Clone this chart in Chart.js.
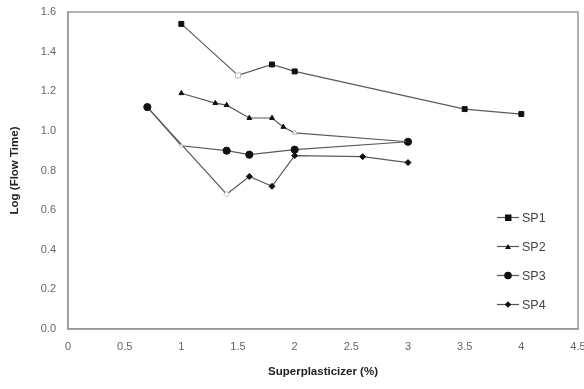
<!DOCTYPE html>
<html>
<head>
<meta charset="utf-8">
<script src="https://cdn.jsdelivr.net/npm/chart.js@4/dist/chart.umd.min.js"></script>
<style>
  html, body { margin: 0; padding: 0; background: #fff; }
  #wrap { position: relative; width: 584px; height: 389px; }
  #legend {
    position: absolute; left: 496px; top: 203px;
    font-family: "Liberation Sans", Arial, sans-serif; font-size: 12.5px; color: #444;
  }
  #legend div { display: flex; align-items: center; height: 29px; }
  #legend svg { margin-right: 2px; }
</style>
</head>
<body>
<div id="wrap">
  <canvas id="chart" width="584" height="389"></canvas>
  <div id="legend"></div>
</div>
<script>
// ================= DATA =================
const seriesNames = ["SP1", "SP2", "SP3", "SP4"];

const sp1X = [1.0, 1.5, 1.8, 2.0, 3.5, 4.0];
const sp1Y = [1.54, 1.28, 1.335, 1.30, 1.11, 1.085];

const sp2X = [1.0, 1.3, 1.4, 1.6, 1.8, 1.9, 2.0, 3.0];
const sp2Y = [1.19, 1.14, 1.13, 1.065, 1.065, 1.02, 0.99, 0.945];

const sp3X = [0.7, 1.0, 1.4, 1.6, 2.0, 3.0];
const sp3Y = [1.12, 0.925, 0.90, 0.88, 0.905, 0.945];

const sp4X = [0.7, 1.4, 1.6, 1.8, 2.0, 2.6, 3.0];
const sp4Y = [1.12, 0.68, 0.77, 0.72, 0.875, 0.87, 0.84];

// points drawn hollow in the original
const hollow = { SP1: [1.5], SP2: [2.0], SP3: [1.0], SP4: [1.4] };

const yTicks = [0, 0.2, 0.4, 0.6, 0.8, 1.0, 1.2, 1.4, 1.6];
const xTicks = [0, 0.5, 1, 1.5, 2, 2.5, 3, 3.5, 4, 4.5];

// ================= STYLES =================
const markers = {
  SP1: { style: "rect", radius: 3.5 },
  SP2: { style: "triangle", radius: 2.8 },
  SP3: { style: "circle", radius: 3.6 },
  SP4: { style: "rectRot", radius: 3 },
};

const toPoints = (xs, ys) => xs.map((x, i) => ({ x, y: ys[i] }));

const makeSet = (name, xs, ys) => ({
  label: name,
  data: toPoints(xs, ys),
  showLine: true,
  borderColor: "#5a5a5a",
  borderWidth: 1.2,
  pointStyle: markers[name].style,
  pointRadius: xs.map((x) =>
    hollow[name].includes(x) && name === "SP3" ? 1.5 : markers[name].radius
  ),
  pointBorderColor: xs.map((x) => (hollow[name].includes(x) ? "#bbb" : "#111")),
  pointBackgroundColor: xs.map((x) => (hollow[name].includes(x) ? "#fff" : "#111")),
  pointBorderWidth: 1,
  tension: 0,
});

// box round the plot area
const frame = {
  id: "frame",
  afterDraw(chart) {
    const { ctx, chartArea: a } = chart;
    ctx.save();
    ctx.strokeStyle = "#999";
    ctx.lineWidth = 1.5;
    ctx.strokeRect(a.left, a.top, a.right - a.left, a.bottom - a.top);
    ctx.restore();
  },
};

const tickFont = { family: "'Liberation Sans', Arial, sans-serif", size: 11 };
const titleFont = { family: "'Liberation Sans', Arial, sans-serif", size: 11.5, weight: "bold" };

new Chart(document.getElementById("chart"), {
  type: "scatter",
  data: {
    datasets: [
      makeSet("SP1", sp1X, sp1Y),
      makeSet("SP2", sp2X, sp2Y),
      makeSet("SP3", sp3X, sp3Y),
      makeSet("SP4", sp4X, sp4Y),
    ],
  },
  options: {
    responsive: false,
    animation: false,
    layout: { padding: { top: 12, right: 6, left: 0, bottom: 0 } },
    plugins: { legend: { display: false }, tooltip: { enabled: false } },
    scales: {
      x: {
        type: "linear",
        min: 0,
        max: 4.5,
        afterBuildTicks: (s) => { s.ticks = xTicks.map((v) => ({ value: v })); },
        afterFit: (s) => { s.height = 60; s.paddingLeft = 0; s.paddingRight = 0; },
        grid: { display: false, drawTicks: true, tickLength: 3 },
        border: { color: "#999", width: 1.5 },
        ticks: { color: "#666", font: tickFont, padding: 8, maxRotation: 0, callback: (v) => String(v) },
        title: { display: true, text: "Superplasticizer (%)", color: "#222", font: titleFont, padding: { top: 3, bottom: 10 } },
      },
      y: {
        min: 0,
        max: 1.6,
        afterBuildTicks: (s) => { s.ticks = yTicks.map((v) => ({ value: v })); },
        afterFit: (s) => { s.width = 68; s.paddingTop = 0; s.paddingBottom = 0; },
        grid: { display: false, drawTicks: true, tickLength: 3 },
        border: { color: "#999", width: 1.5 },
        ticks: { color: "#666", font: tickFont, padding: 9, callback: (v) => v.toFixed(1) },
        title: { display: true, text: "Log (Flow Time)", color: "#222", font: titleFont, padding: { top: 8, bottom: 4 } },
      },
    },
  },
  plugins: [frame],
});

// ================= LEGEND =================
const legend = document.getElementById("legend");
seriesNames.forEach((name) => {
  const m = markers[name];
  let shape = "";
  if (m.style === "rect") shape = '<rect x="9" y="3.5" width="6.5" height="6.5" fill="#111"/>';
  if (m.style === "triangle") shape = '<polygon points="12,4 15,9 9,9" fill="#111"/>';
  if (m.style === "circle") shape = '<circle cx="12" cy="6.5" r="3.8" fill="#111"/>';
  if (m.style === "rectRot") shape = '<polygon points="12,3.2 15.3,6.5 12,9.8 8.7,6.5" fill="#111"/>';
  const row = document.createElement("div");
  row.innerHTML =
    '<svg width="24" height="13"><line x1="1" y1="6.5" x2="23" y2="6.5" stroke="#555" stroke-width="1.2"/>' +
    shape + "</svg><span>" + name + "</span>";
  legend.appendChild(row);
});
</script>
</body>
</html>
